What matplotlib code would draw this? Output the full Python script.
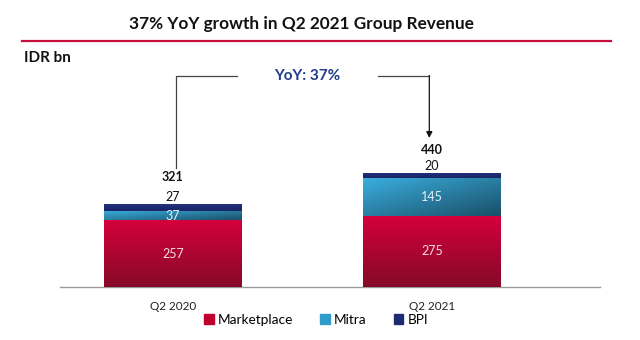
import matplotlib.pyplot as plt
import matplotlib.patches as mpatches
import numpy as np
from matplotlib.colors import LinearSegmentedColormap

plt.rcParams['font.family'] = ['Lato', 'DejaVu Sans']

# Data
quarters = ['Q2 2020', 'Q2 2021']
marketplace = [257, 275]
mitra = [37, 145]
bpi = [27, 20]
totals = [321, 440]
yoy_label = 'YoY: 37%'

fig = plt.figure(figsize=(6.4, 3.4), dpi=100)
fig.patch.set_facecolor('white')

# title and red rule
fig.text(301 / 640, 1 - 24 / 340, '37% YoY growth in Q2 2021 Group Revenue',
         ha='center', va='center', fontsize=12.4, fontweight='bold', color='#111111')
fig.add_artist(plt.Line2D([22 / 640, 611 / 640], [1 - 41 / 340, 1 - 41 / 340],
                          color='#c8103e', lw=1.6))
fig.text(24 / 640, 1 - 58 / 340, 'IDR bn', ha='left', va='center',
         fontsize=11, fontweight='bold', color='#111111')

ax = fig.add_axes([60 / 640, 1 - 287 / 340, 540 / 640, 227 / 340])
x = np.arange(len(quarters))
width = 0.53

def gradient_fill(ax, bars, c1, c2, diagonal=False):
    cmap = LinearSegmentedColormap.from_list('g', [c1, c2])
    for b in bars:
        x0, y0 = b.get_x(), b.get_y()
        w, h = b.get_width(), b.get_height()
        if diagonal:
            gx, gy = np.meshgrid(np.linspace(0, 1, 64), np.linspace(0, 1, 64))
            grad = (gx + gy) / 2
        else:
            grad = np.linspace(0, 1, 64)[:, None] * np.ones((1, 4))
        im = ax.imshow(grad, cmap=cmap, extent=(x0, x0 + w, y0, y0 + h),
                       aspect='auto', zorder=3, interpolation='bicubic')
        im.set_clip_path(b)
        b.set_facecolor('none')

b1 = ax.bar(x, marketplace, width, color='#b8002f', zorder=2, lw=0)
b2 = ax.bar(x, mitra, width, bottom=marketplace, color='#2c8fba', zorder=2, lw=0)
bottom3 = [m + n for m, n in zip(marketplace, mitra)]
b3 = ax.bar(x, bpi, width, bottom=bottom3, color='#1f2b70', zorder=2, lw=0)

gradient_fill(ax, b1, '#d4003c', '#860a28')
gradient_fill(ax, b2, '#3aaede', '#1a4f68', diagonal=True)
gradient_fill(ax, b3, '#223080', '#1a2564')

ax.set_xlim(-0.436, 1.649)
ax.set_ylim(0, 876)

total_offsets = [19.5, 16.5]
for i in range(len(quarters)):
    ax.text(x[i], marketplace[i] / 2, str(marketplace[i]), ha='center', va='center',
            fontsize=9, color='#f2dde3', zorder=5)
    ax.text(x[i], marketplace[i] + mitra[i] / 2, str(mitra[i]), ha='center', va='center',
            fontsize=9, color='#e6f0f5', zorder=5)
    ax.annotate(str(bpi[i]), (x[i], totals[i]), xytext=(0, 4.8), textcoords='offset points',
                ha='center', va='center', fontsize=9, color='#111111')
    ax.annotate(str(totals[i]), (x[i], totals[i]), xytext=(0, total_offsets[i]),
                textcoords='offset points', ha='center', va='center',
                fontsize=9, fontweight='bold', color='#111111')

# YoY bracket
ytop = 815
ax.plot([x[0] + 0.01, x[0] + 0.01, x[0] + 0.248], [459, ytop, ytop], color='#444444', lw=0.9)
ax.plot([x[0] + 0.792, x[1] - 0.01], [ytop, ytop], color='#444444', lw=0.9)
ax.annotate('', xy=(x[1] - 0.01, 575), xytext=(x[1] - 0.01, ytop + 1.5),
            arrowprops=dict(arrowstyle='-|>', color='#111111', lw=0.9,
                            mutation_scale=9, shrinkA=0, shrinkB=0))
ax.text(x[0] + 0.52, ytop, yoy_label, ha='center', va='center',
        fontsize=11, fontweight='bold', color='#1f3a8a')

ax.set_xticks(x)
ax.set_xticklabels(quarters, fontsize=8.5, color='#222222')
ax.tick_params(axis='x', length=0, pad=10)
ax.set_yticks([])
for s in ['top', 'right', 'left']:
    ax.spines[s].set_visible(False)
ax.spines['bottom'].set_color('#9a9a9a')
ax.spines['bottom'].set_linewidth(1.0)

handles = [mpatches.Patch(color='#c0002f', label='Marketplace'),
           mpatches.Patch(color='#2f9ccb', label='Mitra'),
           mpatches.Patch(color='#1f2b70', label='BPI')]
fig.legend(handles=handles, loc='center', bbox_to_anchor=(316 / 640, 1 - 320 / 340),
           ncol=3, frameon=False, fontsize=9.8, handlelength=0.7, handleheight=0.7,
           handletextpad=0.3, columnspacing=2.0)

fig.savefig('out.png', dpi=100)
